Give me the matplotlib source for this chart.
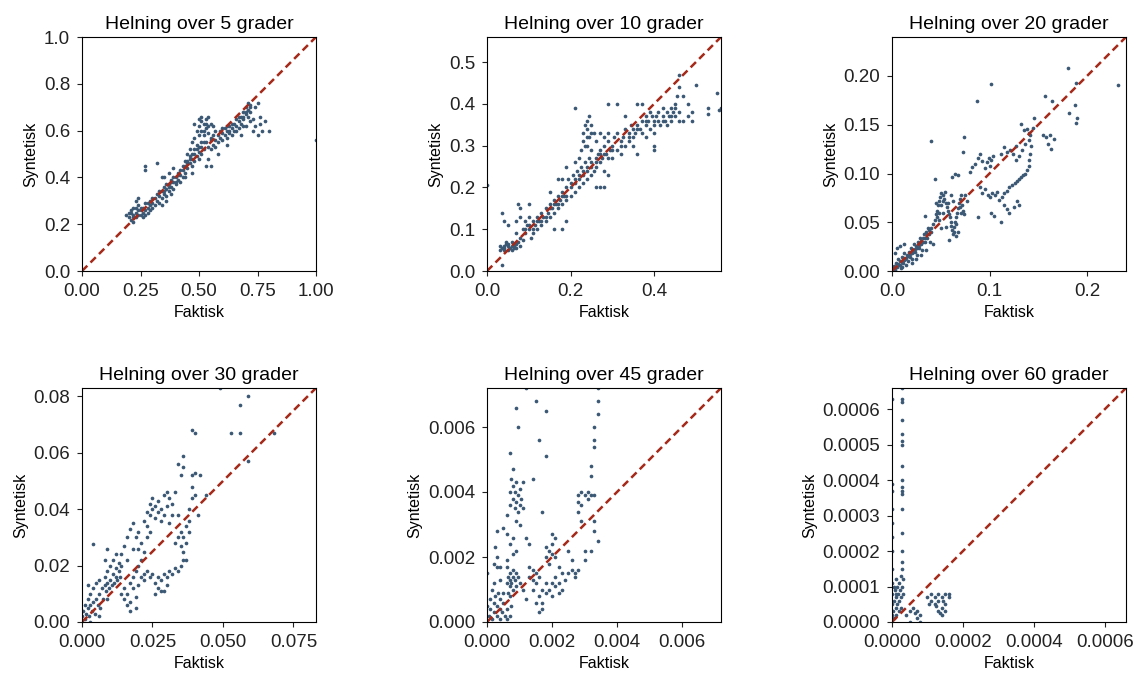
import matplotlib
matplotlib.use("Agg")
import matplotlib.pyplot as plt
from matplotlib.ticker import MultipleLocator

plt.rcParams["font.family"] = ["Liberation Sans", "DejaVu Sans"]

# Panel titles and axis limits (same for x and y)
titles = ["Helning over 5 grader", "Helning over 10 grader", "Helning over 20 grader",
          "Helning over 30 grader", "Helning over 45 grader", "Helning over 60 grader"]
limits = [1.0, 0.56, 0.24, 0.083, 0.0072, 0.00066]

# Points: (faktisk, syntetisk)
pts_5 = [
    (0.19, 0.24), (0.20, 0.25), (0.20, 0.23), (0.21, 0.26), (0.21, 0.22), (0.22, 0.24), (0.22, 0.27),
    (0.22, 0.21), (0.23, 0.25), (0.23, 0.23), (0.24, 0.26), (0.24, 0.28), (0.25, 0.24), (0.25, 0.27),
    (0.26, 0.25), (0.26, 0.23), (0.27, 0.26), (0.27, 0.29), (0.28, 0.27), (0.28, 0.25), (0.29, 0.28),
    (0.29, 0.30), (0.30, 0.27), (0.30, 0.29), (0.31, 0.31), (0.31, 0.28), (0.27, 0.45), (0.27, 0.43),
    (0.32, 0.46), (0.24, 0.31), (0.23, 0.30), (0.32, 0.30), (0.32, 0.33), (0.33, 0.32), (0.33, 0.29),
    (0.34, 0.34), (0.34, 0.31), (0.35, 0.33), (0.35, 0.36), (0.36, 0.35), (0.36, 0.32), (0.37, 0.37),
    (0.37, 0.34), (0.38, 0.36), (0.38, 0.33), (0.38, 0.39), (0.39, 0.38), (0.39, 0.35), (0.40, 0.40),
    (0.40, 0.37), (0.41, 0.39), (0.41, 0.42), (0.42, 0.41), (0.42, 0.38), (0.43, 0.43), (0.43, 0.40),
    (0.34, 0.40), (0.35, 0.40), (0.37, 0.42), (0.39, 0.44), (0.34, 0.28), (0.36, 0.30), (0.44, 0.45),
    (0.44, 0.42), (0.45, 0.47), (0.45, 0.44), (0.46, 0.46), (0.46, 0.49), (0.47, 0.48), (0.47, 0.45),
    (0.48, 0.50), (0.48, 0.47), (0.49, 0.52), (0.49, 0.49), (0.50, 0.51), (0.50, 0.48), (0.51, 0.53),
    (0.51, 0.50), (0.52, 0.55), (0.52, 0.52), (0.46, 0.52), (0.47, 0.55), (0.48, 0.57), (0.45, 0.50),
    (0.44, 0.40), (0.47, 0.42), (0.53, 0.45), (0.50, 0.58), (0.50, 0.62), (0.50, 0.65), (0.51, 0.60),
    (0.51, 0.66), (0.52, 0.63), (0.52, 0.58), (0.53, 0.65), (0.53, 0.61), (0.54, 0.66), (0.54, 0.59),
    (0.55, 0.63), (0.55, 0.57), (0.56, 0.62), (0.57, 0.60), (0.49, 0.60), (0.48, 0.63), (0.53, 0.55),
    (0.54, 0.53), (0.55, 0.56), (0.55, 0.52), (0.56, 0.54), (0.57, 0.56), (0.57, 0.53), (0.58, 0.58),
    (0.58, 0.55), (0.59, 0.57), (0.60, 0.59), (0.60, 0.56), (0.61, 0.58), (0.61, 0.61), (0.62, 0.60),
    (0.62, 0.57), (0.63, 0.59), (0.63, 0.62), (0.64, 0.61), (0.64, 0.58), (0.65, 0.63), (0.65, 0.60),
    (0.66, 0.62), (0.66, 0.65), (0.67, 0.64), (0.67, 0.61), (0.68, 0.66), (0.68, 0.63), (0.69, 0.68),
    (0.69, 0.65), (0.70, 0.67), (0.70, 0.70), (0.71, 0.69), (0.71, 0.72), (0.72, 0.71), (0.72, 0.68),
    (0.70, 0.62), (0.68, 0.58), (0.62, 0.54), (0.58, 0.50), (0.54, 0.48), (0.55, 0.45), (0.73, 0.65),
    (0.74, 0.62), (0.74, 0.70), (0.75, 0.72), (0.76, 0.66), (0.76, 0.63), (0.77, 0.60), (0.78, 0.64),
    (0.80, 0.60), (0.75, 0.58), (0.72, 0.64), (0.73, 0.60), (1.00, 0.56),
    (0.21, 0.25), (0.22, 0.23), (0.23, 0.27), (0.24, 0.24), (0.25, 0.26), (0.26, 0.27), (0.27, 0.24),
    (0.28, 0.29), (0.29, 0.26), (0.30, 0.31), (0.33, 0.34), (0.35, 0.34), (0.36, 0.37), (0.37, 0.36),
    (0.38, 0.38), (0.39, 0.40), (0.40, 0.38), (0.41, 0.41), (0.42, 0.43), (0.43, 0.45), (0.44, 0.47),
    (0.45, 0.46), (0.46, 0.48), (0.47, 0.50), (0.48, 0.52), (0.49, 0.54), (0.50, 0.53), (0.51, 0.55),
    (0.52, 0.60), (0.53, 0.63), (0.51, 0.64), (0.54, 0.62), (0.56, 0.58), (0.59, 0.60), (0.60, 0.61),
    (0.62, 0.62), (0.63, 0.60), (0.64, 0.63), (0.66, 0.60), (0.67, 0.66), (0.69, 0.66), (0.70, 0.68),
    (0.71, 0.66), (0.72, 0.70), (0.69, 0.62),
]

pts_10 = [
    (0.03, 0.05), (0.03, 0.06), (0.035, 0.055), (0.04, 0.06), (0.04, 0.05), (0.045, 0.065), (0.045, 0.07),
    (0.05, 0.06), (0.05, 0.05), (0.055, 0.055), (0.06, 0.05), (0.06, 0.07), (0.065, 0.06), (0.07, 0.055),
    (0.07, 0.065), (0.075, 0.07), (0.08, 0.06), (0.08, 0.08), (0.085, 0.075), (0.035, 0.14), (0.04, 0.12),
    (0.05, 0.11), (0.035, 0.015), (0.0, 0.205), (0.07, 0.09), (0.07, 0.12), (0.075, 0.16), (0.08, 0.15),
    (0.085, 0.10), (0.09, 0.09), (0.09, 0.12), (0.095, 0.11), (0.10, 0.10), (0.10, 0.13), (0.105, 0.08),
    (0.11, 0.12), (0.11, 0.09), (0.115, 0.11), (0.12, 0.13), (0.12, 0.10), (0.125, 0.12), (0.13, 0.14),
    (0.13, 0.11), (0.135, 0.13), (0.14, 0.15), (0.14, 0.12), (0.145, 0.14), (0.15, 0.16), (0.15, 0.13),
    (0.10, 0.16), (0.08, 0.13), (0.155, 0.15), (0.16, 0.17), (0.16, 0.14), (0.165, 0.16), (0.17, 0.18),
    (0.17, 0.15), (0.175, 0.17), (0.18, 0.19), (0.18, 0.16), (0.185, 0.18), (0.19, 0.20), (0.19, 0.17),
    (0.195, 0.22), (0.20, 0.21), (0.20, 0.18), (0.205, 0.23), (0.21, 0.22), (0.21, 0.19), (0.215, 0.24),
    (0.22, 0.23), (0.22, 0.20), (0.225, 0.25), (0.23, 0.24), (0.23, 0.21), (0.235, 0.26), (0.24, 0.25),
    (0.24, 0.22), (0.245, 0.27), (0.25, 0.26), (0.25, 0.23), (0.17, 0.22), (0.18, 0.22), (0.19, 0.25),
    (0.15, 0.19), (0.16, 0.10), (0.19, 0.12), (0.21, 0.26), (0.18, 0.10), (0.225, 0.29), (0.23, 0.31),
    (0.23, 0.33), (0.235, 0.35), (0.24, 0.30), (0.24, 0.34), (0.24, 0.36), (0.245, 0.32), (0.245, 0.37),
    (0.25, 0.35), (0.25, 0.29), (0.255, 0.33), (0.22, 0.27), (0.21, 0.39), (0.255, 0.24), (0.26, 0.27),
    (0.26, 0.25), (0.265, 0.28), (0.27, 0.26), (0.27, 0.29), (0.275, 0.27), (0.28, 0.30), (0.28, 0.24),
    (0.285, 0.28), (0.29, 0.27), (0.29, 0.31), (0.295, 0.29), (0.30, 0.30), (0.30, 0.27), (0.305, 0.32),
    (0.31, 0.29), (0.31, 0.33), (0.32, 0.31), (0.32, 0.28), (0.325, 0.32), (0.33, 0.34), (0.33, 0.30),
    (0.34, 0.33), (0.34, 0.31), (0.345, 0.35), (0.35, 0.34), (0.35, 0.32), (0.26, 0.31), (0.27, 0.33),
    (0.28, 0.32), (0.29, 0.33), (0.27, 0.20), (0.26, 0.20), (0.29, 0.23), (0.28, 0.20), (0.29, 0.40),
    (0.31, 0.40), (0.33, 0.37), (0.36, 0.28), (0.355, 0.33), (0.36, 0.35), (0.365, 0.34), (0.37, 0.36),
    (0.37, 0.33), (0.38, 0.35), (0.38, 0.37), (0.385, 0.36), (0.39, 0.34), (0.39, 0.38), (0.395, 0.37),
    (0.40, 0.36), (0.40, 0.33), (0.405, 0.37), (0.41, 0.36), (0.41, 0.38), (0.415, 0.35), (0.42, 0.37),
    (0.42, 0.39), (0.425, 0.36), (0.43, 0.38), (0.43, 0.35), (0.435, 0.37), (0.44, 0.39), (0.44, 0.36),
    (0.445, 0.38), (0.45, 0.40), (0.45, 0.37), (0.455, 0.42), (0.46, 0.44), (0.46, 0.38), (0.47, 0.36),
    (0.47, 0.42), (0.48, 0.40), (0.48, 0.37), (0.49, 0.38), (0.49, 0.36), (0.40, 0.30), (0.40, 0.29),
    (0.38, 0.32), (0.37, 0.40), (0.35, 0.30), (0.36, 0.40), (0.50, 0.445), (0.46, 0.47), (0.53, 0.375),
    (0.53, 0.39), (0.55, 0.425), (0.555, 0.385), (0.56, 0.39),
    (0.04, 0.055), (0.05, 0.065), (0.06, 0.06), (0.065, 0.055), (0.09, 0.10), (0.10, 0.11), (0.11, 0.10),
    (0.12, 0.12), (0.13, 0.12), (0.14, 0.13), (0.15, 0.15), (0.16, 0.16), (0.17, 0.16), (0.18, 0.18),
    (0.19, 0.18), (0.20, 0.20), (0.21, 0.21), (0.22, 0.22), (0.23, 0.23), (0.24, 0.24), (0.25, 0.25),
    (0.26, 0.26), (0.235, 0.30), (0.24, 0.32), (0.25, 0.33), (0.27, 0.28), (0.28, 0.28), (0.30, 0.29),
    (0.32, 0.30), (0.34, 0.32), (0.36, 0.34), (0.38, 0.36), (0.40, 0.35), (0.42, 0.36), (0.44, 0.37),
    (0.46, 0.36), (0.45, 0.39),
]

pts_20 = [
    (0.001, 0.002), (0.002, 0.005), (0.003, 0.001), (0.004, 0.008), (0.005, 0.004), (0.006, 0.012),
    (0.007, 0.006), (0.008, 0.010), (0.009, 0.003), (0.010, 0.014), (0.011, 0.008), (0.012, 0.018),
    (0.013, 0.012), (0.014, 0.006), (0.015, 0.016), (0.016, 0.010), (0.017, 0.020), (0.018, 0.014),
    (0.019, 0.024), (0.020, 0.018), (0.021, 0.012), (0.022, 0.022), (0.023, 0.028), (0.024, 0.020),
    (0.025, 0.026), (0.026, 0.016), (0.027, 0.030), (0.028, 0.024), (0.029, 0.034), (0.030, 0.028),
    (0.031, 0.022), (0.032, 0.034), (0.033, 0.038), (0.034, 0.030), (0.035, 0.040), (0.036, 0.034),
    (0.037, 0.044), (0.038, 0.038), (0.039, 0.030), (0.040, 0.044), (0.005, 0.024), (0.008, 0.026),
    (0.003, 0.018), (0.012, 0.028), (0.010, 0.004), (0.020, 0.008), (0.025, 0.012), (0.030, 0.016),
    (0.035, 0.022), (0.042, 0.028), (0.042, 0.048), (0.044, 0.052), (0.045, 0.058), (0.046, 0.062),
    (0.047, 0.068), (0.048, 0.072), (0.049, 0.076), (0.050, 0.080), (0.052, 0.078), (0.053, 0.074),
    (0.054, 0.081), (0.055, 0.070), (0.056, 0.066), (0.057, 0.062), (0.058, 0.058), (0.059, 0.055),
    (0.060, 0.050), (0.061, 0.046), (0.062, 0.042), (0.063, 0.038), (0.064, 0.045), (0.065, 0.050),
    (0.066, 0.055), (0.067, 0.060), (0.068, 0.065), (0.069, 0.070), (0.070, 0.074), (0.071, 0.078),
    (0.072, 0.068), (0.073, 0.062), (0.074, 0.058), (0.068, 0.040), (0.066, 0.036), (0.055, 0.045),
    (0.050, 0.044), (0.048, 0.052), (0.052, 0.060), (0.057, 0.070), (0.060, 0.078), (0.063, 0.072),
    (0.045, 0.070), (0.044, 0.094), (0.040, 0.133), (0.034, 0.056), (0.058, 0.032), (0.062, 0.096),
    (0.065, 0.100), (0.068, 0.098), (0.073, 0.122), (0.074, 0.137), (0.075, 0.078), (0.077, 0.072),
    (0.080, 0.102), (0.082, 0.107), (0.085, 0.110), (0.088, 0.116), (0.090, 0.120), (0.092, 0.113),
    (0.095, 0.106), (0.097, 0.112), (0.099, 0.116), (0.100, 0.108), (0.102, 0.114), (0.104, 0.118),
    (0.087, 0.174), (0.102, 0.192), (0.088, 0.055), (0.095, 0.084), (0.098, 0.078), (0.100, 0.076),
    (0.103, 0.080), (0.106, 0.078), (0.108, 0.081), (0.092, 0.080), (0.090, 0.086), (0.102, 0.060),
    (0.105, 0.056), (0.112, 0.050), (0.110, 0.073), (0.113, 0.076), (0.115, 0.080), (0.118, 0.082),
    (0.120, 0.086), (0.123, 0.088), (0.126, 0.090), (0.128, 0.092), (0.130, 0.094), (0.132, 0.096),
    (0.134, 0.098), (0.136, 0.100), (0.138, 0.104), (0.140, 0.108), (0.141, 0.114), (0.142, 0.120),
    (0.143, 0.128), (0.140, 0.134), (0.136, 0.130), (0.133, 0.124), (0.130, 0.118), (0.127, 0.114),
    (0.124, 0.120), (0.121, 0.124), (0.118, 0.122), (0.115, 0.127), (0.112, 0.120), (0.120, 0.060),
    (0.118, 0.064), (0.115, 0.068), (0.125, 0.066), (0.128, 0.072), (0.130, 0.068), (0.127, 0.128),
    (0.132, 0.151), (0.135, 0.145), (0.138, 0.146), (0.140, 0.142), (0.145, 0.147), (0.142, 0.140),
    (0.146, 0.157), (0.155, 0.140), (0.158, 0.137), (0.160, 0.130), (0.162, 0.140), (0.163, 0.125),
    (0.166, 0.135), (0.157, 0.179), (0.164, 0.174), (0.181, 0.208), (0.189, 0.193), (0.182, 0.162),
    (0.188, 0.170), (0.190, 0.157), (0.189, 0.152), (0.232, 0.191),
    (0.002, 0.003), (0.004, 0.004), (0.006, 0.007), (0.008, 0.006), (0.010, 0.009), (0.012, 0.011),
    (0.014, 0.013), (0.016, 0.015), (0.018, 0.017), (0.020, 0.020), (0.022, 0.019), (0.024, 0.023),
    (0.026, 0.024), (0.028, 0.027), (0.030, 0.031), (0.032, 0.030), (0.034, 0.034), (0.036, 0.038),
    (0.038, 0.042), (0.040, 0.040), (0.046, 0.055), (0.048, 0.060), (0.050, 0.068), (0.052, 0.072),
    (0.070, 0.066), (0.071, 0.060), (0.066, 0.048), (0.064, 0.040),
]

pts_30 = [
    (0.0, 0.002), (0.0005, 0.004), (0.001, 0.001), (0.001, 0.006), (0.0015, 0.003), (0.002, 0.005),
    (0.002, 0.008), (0.0025, 0.002), (0.003, 0.006), (0.003, 0.010), (0.0035, 0.004), (0.004, 0.007),
    (0.004, 0.012), (0.0045, 0.003), (0.005, 0.008), (0.005, 0.014), (0.0055, 0.006), (0.006, 0.010),
    (0.006, 0.015), (0.0065, 0.005), (0.007, 0.012), (0.0075, 0.008), (0.008, 0.013), (0.008, 0.016),
    (0.0085, 0.011), (0.009, 0.014), (0.009, 0.018), (0.0095, 0.012), (0.010, 0.015), (0.010, 0.020),
    (0.0105, 0.013), (0.011, 0.017), (0.011, 0.022), (0.0115, 0.014), (0.012, 0.016), (0.012, 0.019),
    (0.0125, 0.015), (0.013, 0.018), (0.0135, 0.016), (0.014, 0.020), (0.002, 0.013), (0.004, 0.0275),
    (0.009, 0.026), (0.008, 0.022), (0.003, 0.000), (0.006, 0.002), (0.009, 0.008), (0.015, 0.008),
    (0.015, 0.012), (0.016, 0.006), (0.016, 0.010), (0.017, 0.014), (0.017, 0.007), (0.018, 0.012),
    (0.018, 0.016), (0.019, 0.009), (0.019, 0.018), (0.020, 0.013), (0.020, 0.020), (0.021, 0.016),
    (0.021, 0.022), (0.019, 0.005), (0.017, 0.004), (0.014, 0.010), (0.014, 0.024), (0.015, 0.027),
    (0.016, 0.030), (0.016, 0.022), (0.017, 0.033), (0.018, 0.035), (0.018, 0.026), (0.019, 0.030),
    (0.020, 0.032), (0.021, 0.028), (0.022, 0.036), (0.023, 0.039), (0.023, 0.034), (0.024, 0.042),
    (0.024, 0.038), (0.025, 0.040), (0.025, 0.044), (0.026, 0.037), (0.026, 0.041), (0.027, 0.039),
    (0.027, 0.043), (0.028, 0.040), (0.028, 0.036), (0.029, 0.038), (0.029, 0.045), (0.030, 0.041),
    (0.030, 0.046), (0.031, 0.044), (0.031, 0.035), (0.032, 0.038), (0.022, 0.025), (0.023, 0.030),
    (0.012, 0.024), (0.013, 0.021), (0.020, 0.026), (0.022, 0.015), (0.024, 0.032), (0.022, 0.017),
    (0.023, 0.018), (0.024, 0.016), (0.025, 0.017), (0.026, 0.014), (0.027, 0.016), (0.027, 0.012),
    (0.028, 0.015), (0.028, 0.011), (0.029, 0.017), (0.030, 0.016), (0.030, 0.013), (0.031, 0.018),
    (0.032, 0.017), (0.033, 0.019), (0.034, 0.018), (0.035, 0.020), (0.036, 0.022), (0.026, 0.010),
    (0.029, 0.011), (0.033, 0.028), (0.034, 0.030), (0.035, 0.027), (0.035, 0.032), (0.036, 0.025),
    (0.036, 0.030), (0.037, 0.028), (0.037, 0.034), (0.038, 0.036), (0.038, 0.040), (0.039, 0.044),
    (0.039, 0.048), (0.039, 0.052), (0.040, 0.053), (0.040, 0.045), (0.038, 0.032), (0.037, 0.022),
    (0.034, 0.038), (0.033, 0.046), (0.032, 0.042), (0.036, 0.059), (0.036, 0.055), (0.035, 0.052),
    (0.034, 0.056), (0.042, 0.052), (0.041, 0.038), (0.044, 0.045), (0.039, 0.068), (0.040, 0.067),
    (0.049, 0.083), (0.053, 0.067), (0.056, 0.077), (0.056, 0.067), (0.059, 0.080), (0.059, 0.057),
    (0.068, 0.067),
]

pts_45 = [
    (0.0, 0.0015), (0.0, 0.0005), (0.00005, 0.0002), (0.0001, 0.0004), (0.0001, 0.0007), (0.00015, 0.0001),
    (0.0002, 0.0003), (0.0002, 0.0006), (0.00025, 0.0008), (0.0003, 0.0002), (0.0003, 0.0005),
    (0.00035, 0.0009), (0.0004, 0.0001), (0.0004, 0.0004), (0.0004, 0.0007), (0.00045, 0.0003),
    (0.0005, 0.0006), (0.0005, 0.0009), (0.00055, 0.0002), (0.0006, 0.0004), (0.0006, 0.0001),
    (0.0002, 0.0012), (0.0003, 0.0017), (0.0003, 0.0020), (0.0002, 0.0018), (0.00025, 0.0023),
    (0.0003, 0.0028), (0.0004, 0.0017), (0.0004, 0.0013), (0.00015, 0.0010), (0.0006, 0.0012),
    (0.00065, 0.0014), (0.0007, 0.0011), (0.0007, 0.0013), (0.0007, 0.0015), (0.00075, 0.0012),
    (0.0008, 0.0014), (0.0008, 0.0010), (0.0008, 0.0016), (0.00085, 0.0013), (0.0009, 0.0015),
    (0.0009, 0.0011), (0.00095, 0.0014), (0.001, 0.0012), (0.0007, 0.0008), (0.00075, 0.0005),
    (0.0007, 0.0002), (0.00065, 0.0009), (0.0006, 0.0017), (0.0005, 0.0029), (0.0006, 0.0027),
    (0.0006, 0.0033), (0.0007, 0.0036), (0.0007, 0.0040), (0.00075, 0.0044), (0.0008, 0.0038),
    (0.0008, 0.0042), (0.0008, 0.0047), (0.00085, 0.0035), (0.00085, 0.0040), (0.0009, 0.0037),
    (0.0009, 0.0043), (0.0009, 0.0031), (0.00095, 0.0039), (0.00095, 0.0034), (0.001, 0.0036),
    (0.001, 0.0041), (0.001, 0.0030), (0.00105, 0.0038), (0.0011, 0.0035), (0.0011, 0.0043),
    (0.0007, 0.0024), (0.0008, 0.0026), (0.0009, 0.0022), (0.0008, 0.0021), (0.0006, 0.0019),
    (0.0007, 0.0052), (0.00095, 0.0060), (0.0009, 0.0066), (0.0012, 0.0072), (0.0014, 0.0044),
    (0.0012, 0.0026), (0.0013, 0.0024), (0.0011, 0.0010), (0.0012, 0.0007), (0.0013, 0.0014),
    (0.0013, 0.0017), (0.0014, 0.0013), (0.0014, 0.0016), (0.0015, 0.0012), (0.0015, 0.0015),
    (0.0016, 0.0014), (0.0016, 0.0008), (0.0017, 0.0010), (0.0017, 0.0006), (0.0017, 0.0004),
    (0.0018, 0.0009), (0.0018, 0.0012), (0.0018, 0.0020), (0.0018, 0.0023), (0.0019, 0.0022),
    (0.0019, 0.0018), (0.0019, 0.0010), (0.002, 0.0024), (0.002, 0.0027), (0.002, 0.0021),
    (0.002, 0.0012), (0.002, 0.0008), (0.0021, 0.0026), (0.0021, 0.0014), (0.0021, 0.0011),
    (0.0021, 0.0020), (0.0022, 0.0012), (0.0022, 0.0009), (0.0022, 0.0017), (0.0023, 0.0015),
    (0.0023, 0.0010), (0.0017, 0.0034), (0.0018, 0.0051), (0.0016, 0.0056), (0.0018, 0.0065),
    (0.0015, 0.0068), (0.0016, 0.0003), (0.0014, 0.0010), (0.0015, 0.0006), (0.0024, 0.0013),
    (0.0025, 0.0015), (0.0025, 0.0022), (0.0026, 0.0016), (0.0026, 0.0019), (0.0027, 0.0014),
    (0.0027, 0.0015), (0.0028, 0.0016), (0.0028, 0.0037), (0.0028, 0.0039), (0.0028, 0.0034),
    (0.0029, 0.0031), (0.0029, 0.0036), (0.0029, 0.0040), (0.003, 0.0039), (0.003, 0.0022),
    (0.003, 0.0019), (0.0031, 0.0040), (0.0031, 0.0038), (0.0032, 0.0022), (0.0032, 0.0039),
    (0.0032, 0.0045), (0.0032, 0.0048), (0.0033, 0.0054), (0.0033, 0.0056), (0.0033, 0.0060),
    (0.0033, 0.0028), (0.0034, 0.0064), (0.0034, 0.0068), (0.0034, 0.0072), (0.0033, 0.0031),
    (0.0034, 0.0025), (0.0033, 0.0039),
]

pts_60 = [
    (0.0, 0.00002), (0.0, 0.00005), (0.0, 0.00008), (0.0, 0.00011), (0.000003, 0.00003),
    (0.000005, 0.00001), (0.000005, 0.00006), (0.000008, 0.00009), (0.00001, 0.00004),
    (0.00001, 0.00007), (0.00001, 0.00012), (0.000012, 0.00002), (0.000015, 0.00005),
    (0.000015, 0.0001), (0.000018, 0.00008), (0.00002, 0.00003), (0.00002, 0.00006),
    (0.00002, 0.00011), (0.000022, 0.00009), (0.000025, 0.00004), (0.000025, 0.00007),
    (0.000025, 0.00013), (0.000028, 0.0001), (0.000028, 0.00015), (0.00003, 0.00008),
    (0.00003, 0.00012), (0.000005, 0.0001), (0.000012, 0.00008),
    (0.0, 0.00015), (0.0, 0.0002), (0.0, 0.00024), (0.0, 0.00028), (0.0, 0.00032), (0.0, 0.00037),
    (0.0, 0.00039), (0.0, 0.00063),
    (0.000027, 0.00017), (0.000027, 0.0002), (0.000027, 0.00025), (0.000027, 0.00032),
    (0.000027, 0.00036), (0.000027, 0.00037), (0.000027, 0.00038), (0.000027, 0.0004),
    (0.000027, 0.00044), (0.000027, 0.0005), (0.000027, 0.00051), (0.000027, 0.00053),
    (0.000027, 0.00057), (0.000027, 0.00062), (0.000027, 0.00063), (0.000027, 0.00066),
    (0.00004, 0.00002), (0.00005, 0.00003), (0.00006, 0.00004), (0.00007, 0.00003), (0.00007, 0.00001),
    (0.00008, 0.00002), (0.00008, 0.0), (0.00005, 0.0), (0.000065, 0.000025),
    (0.0001, 0.00007), (0.00011, 0.00006), (0.00011, 0.00008), (0.00012, 0.00005), (0.00012, 0.00007),
    (0.00013, 0.00003), (0.00013, 0.00006), (0.00013, 0.00008), (0.00014, 0.00004), (0.00014, 0.00002),
    (0.00014, 0.00007), (0.00015, 0.00008), (0.00015, 0.00005), (0.00015, 0.00003), (0.00016, 0.00007),
    (0.00016, 0.00008), (0.000125, 0.000045), (0.000105, 0.00005), (0.000135, 0.000025),
    (0.000145, 0.00006),
]

all_points = [pts_5, pts_10, pts_20, pts_30, pts_45, pts_60]

fig = plt.figure(figsize=(11.41, 6.75), dpi=100)
W, H = 1141, 675
lefts = [82, 487, 892]
tops = [37, 388]
size = 234

for i in range(6):
    row, col = divmod(i, 3)
    ax = fig.add_axes([lefts[col] / W, 1 - (tops[row] + size) / H, size / W, size / H])
    xs = [p[0] for p in all_points[i]]
    ys = [p[1] for p in all_points[i]]
    lim = limits[i]
    ax.scatter(xs, ys, s=7, color="#3b5875", linewidths=0)
    ax.plot([0, lim], [0, lim], color="#a52a1a", linestyle="--", linewidth=1.8, dashes=(3, 1.8))
    ax.set_xlim(0, lim)
    ax.set_ylim(0, lim)
    if i == 5:
        ax.yaxis.set_major_locator(MultipleLocator(0.0001))
    ax.set_title(titles[i], fontsize=14)
    ax.set_xlabel("Faktisk", fontsize=11.5)
    ax.set_ylabel("Syntetisk", fontsize=11.5)
    ax.tick_params(labelsize=13.5, pad=5, colors="#222222")

fig.savefig("out.png", dpi=100)
